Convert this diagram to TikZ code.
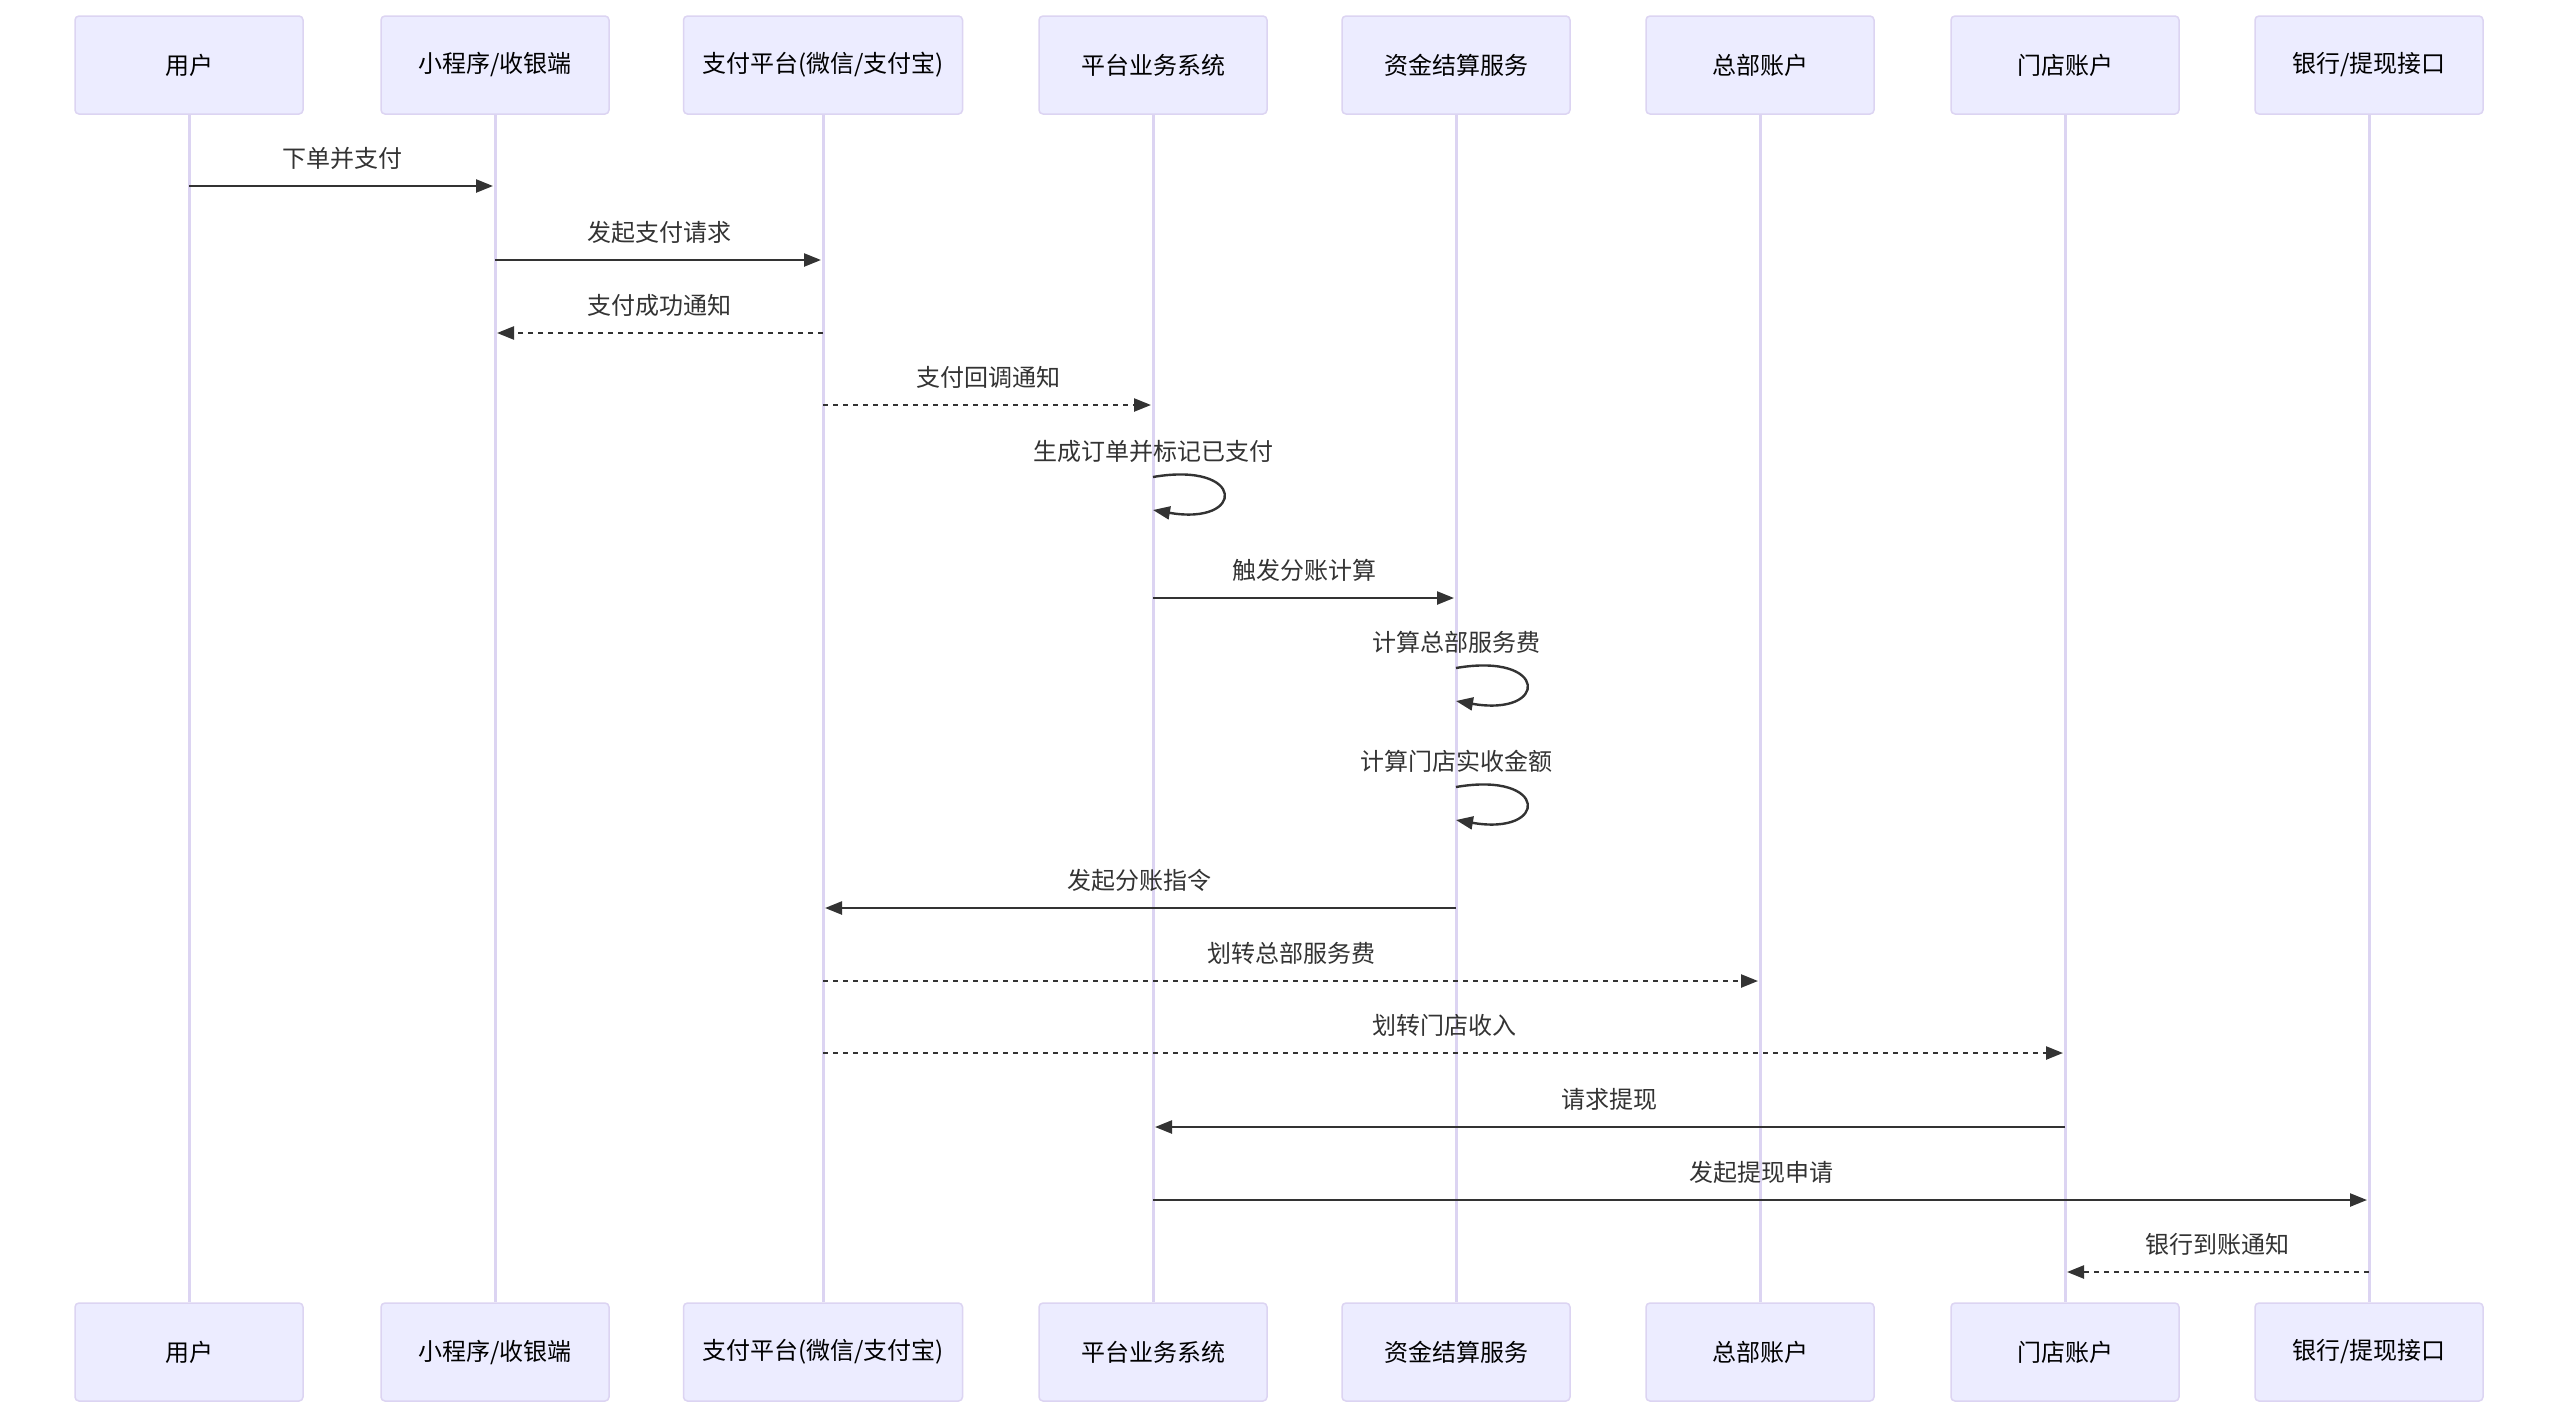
\documentclass[tikz,border=0pt]{standalone}
\usepackage{fontspec}
\setmainfont{Noto Sans CJK SC}
\usetikzlibrary{arrows.meta,calc}
\definecolor{actfill}{HTML}{ECECFF}
\definecolor{actline}{HTML}{DCD4F2}
\definecolor{msgc}{HTML}{333333}
\begin{document}
\begin{tikzpicture}[x=1pt,y=-1pt,
  actor/.style={draw=actline, line width=1.5pt, fill=actfill, rounded corners=4pt,
    minimum width=228pt, minimum height=98pt, font=\fontsize{24}{28}\selectfont,
    text=black, inner sep=0pt},
  life/.style={draw=actline, line width=3pt},
  msgline/.style={draw=msgc, line width=2.4pt, shorten >=2pt,
    -{Triangle[length=17pt,width=13pt]}},
  reply/.style={msgline, dash pattern=on 5pt off 5pt},
  lbl/.style={font=\fontsize{24}{28}\selectfont, text=msgc, inner sep=0pt}]
\fill[white] (0,0) rectangle (2560,1419);
\useasboundingbox (0,0) rectangle (2560,1419);

% actors top
\node[actor] (tA) at (189,65) {用户};
\node[actor] (tB) at (495,65) {小程序/收银端};
\node[actor, minimum width=279pt] (tC) at (823,65) {支付平台(微信/支付宝)};
\node[actor] (tD) at (1153,65) {平台业务系统};
\node[actor] (tE) at (1456,65) {资金结算服务};
\node[actor] (tF) at (1760,65) {总部账户};
\node[actor] (tG) at (2065,65) {门店账户};
\node[actor] (tH) at (2369,65) {银行/提现接口};
% actors bottom
\node[actor] (bA) at (189,1352) {用户};
\node[actor] (bB) at (495,1352) {小程序/收银端};
\node[actor, minimum width=279pt] (bC) at (823,1352) {支付平台(微信/支付宝)};
\node[actor] (bD) at (1153,1352) {平台业务系统};
\node[actor] (bE) at (1456,1352) {资金结算服务};
\node[actor] (bF) at (1760,1352) {总部账户};
\node[actor] (bG) at (2065,1352) {门店账户};
\node[actor] (bH) at (2369,1352) {银行/提现接口};

% lifelines
\foreach \n in {A,B,C,D,E,F,G,H}{
  \draw[life] (t\n.south) -- (b\n.north);
}

% messages
\draw[msgline] (tA |- 0,186) -- (tB |- 0,186);
\node[lbl] (m1) at ($(tA |- 0,158)!0.5!(tB |- 0,158)$) {下单并支付};

\draw[msgline] (tB |- 0,260) -- (tC |- 0,260);
\node[lbl] (m2) at ($(tB |- 0,232)!0.5!(tC |- 0,232)$) {发起支付请求};

\draw[reply] (tC |- 0,333) -- (tB |- 0,333);
\node[lbl] (m3) at ($(tB |- 0,305)!0.5!(tC |- 0,305)$) {支付成功通知};

\draw[reply] (tC |- 0,405) -- (tD |- 0,405);
\node[lbl] (m4) at ($(tC |- 0,377)!0.5!(tD |- 0,377)$) {支付回调通知};

% self loop 1
\coordinate (L1) at (tD |- 0,477);
\draw[msgline, shorten >=0pt] (L1) .. controls ($(L1)+(93,-16)$) and ($(L1)+(93,49)$) .. ($(L1)+(0,33)$);
\node[lbl] (m5) at ($(L1)+(0,-26)$) {生成订单并标记已支付};

\draw[msgline] (tD |- 0,598) -- (tE |- 0,598);
\node[lbl] (m6) at ($(tD |- 0,570)!0.5!(tE |- 0,570)$) {触发分账计算};

% self loop 2
\coordinate (L2) at (tE |- 0,668);
\draw[msgline, shorten >=0pt] (L2) .. controls ($(L2)+(93,-16)$) and ($(L2)+(93,49)$) .. ($(L2)+(0,33)$);
\node[lbl] (m7) at ($(L2)+(0,-26)$) {计算总部服务费};

% self loop 3
\coordinate (L3) at (tE |- 0,787);
\draw[msgline, shorten >=0pt] (L3) .. controls ($(L3)+(93,-16)$) and ($(L3)+(93,49)$) .. ($(L3)+(0,33)$);
\node[lbl] (m8) at ($(L3)+(0,-26)$) {计算门店实收金额};

\draw[msgline] (tE |- 0,908) -- (tC |- 0,908);
\node[lbl] (m9) at ($(tC |- 0,880)!0.5!(tE |- 0,880)$) {发起分账指令};

\draw[reply] (tC |- 0,981) -- (tF |- 0,981);
\node[lbl] (m10) at ($(tC |- 0,953)!0.5!(tF |- 0,953)$) {划转总部服务费};

\draw[reply] (tC |- 0,1053) -- (tG |- 0,1053);
\node[lbl] (m11) at ($(tC |- 0,1025)!0.5!(tG |- 0,1025)$) {划转门店收入};

\draw[msgline] (tG |- 0,1127) -- (tD |- 0,1127);
\node[lbl] (m12) at ($(tD |- 0,1099)!0.5!(tG |- 0,1099)$) {请求提现};

\draw[msgline] (tD |- 0,1200) -- (tH |- 0,1200);
\node[lbl] (m13) at ($(tD |- 0,1172)!0.5!(tH |- 0,1172)$) {发起提现申请};

\draw[reply] (tH |- 0,1272) -- (tG |- 0,1272);
\node[lbl] (m14) at ($(tG |- 0,1244)!0.5!(tH |- 0,1244)$) {银行到账通知};
\end{tikzpicture}
\end{document}
